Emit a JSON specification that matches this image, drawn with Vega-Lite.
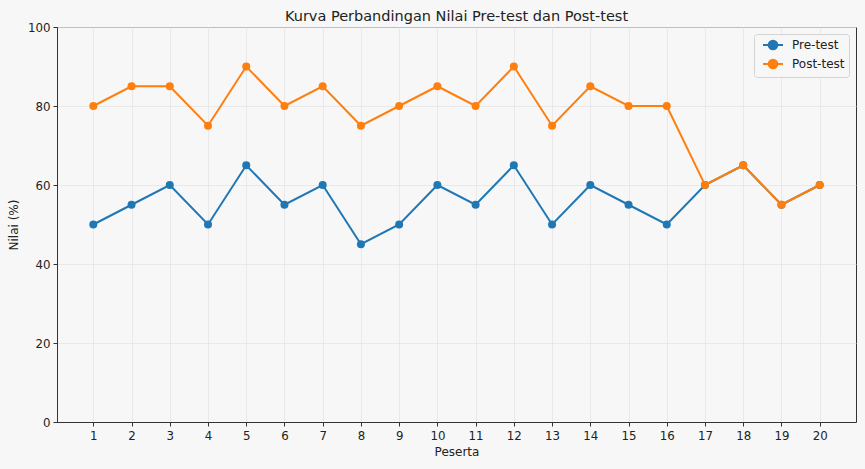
{
  "$schema": "https://vega.github.io/schema/vega-lite/v6.json",
  "width": 799,
  "height": 395,
  "autosize": {"type": "none"},
  "padding": {"left": 57, "top": 27, "right": 9, "bottom": 47},
  "background": "#f7f7f7",
  "title": {
    "text": "Kurva Perbandingan Nilai Pre-test dan Post-test",
    "font": "DejaVu Sans",
    "fontSize": 14.5,
    "fontWeight": "normal",
    "color": "#222222",
    "offset": 0,
    "dy": 2
  },
  "config": {
    "view": {"stroke": "#333333", "strokeWidth": 1, "fill": "#f7f7f7"},
    "axis": {
      "labelFont": "DejaVu Sans",
      "titleFont": "DejaVu Sans",
      "labelFontSize": 11.8,
      "titleFontSize": 12,
      "titleFontWeight": "normal",
      "labelColor": "#222222",
      "titleColor": "#222222",
      "domainColor": "#333333",
      "tickColor": "#333333",
      "tickSize": 4,
      "gridColor": "#e4e4e4",
      "gridWidth": 0.8
    }
  },
  "data": {
    "values": [
      {"peserta": 1, "tes": "Pre-test", "nilai": 50},
      {"peserta": 2, "tes": "Pre-test", "nilai": 55},
      {"peserta": 3, "tes": "Pre-test", "nilai": 60},
      {"peserta": 4, "tes": "Pre-test", "nilai": 50},
      {"peserta": 5, "tes": "Pre-test", "nilai": 65},
      {"peserta": 6, "tes": "Pre-test", "nilai": 55},
      {"peserta": 7, "tes": "Pre-test", "nilai": 60},
      {"peserta": 8, "tes": "Pre-test", "nilai": 45},
      {"peserta": 9, "tes": "Pre-test", "nilai": 50},
      {"peserta": 10, "tes": "Pre-test", "nilai": 60},
      {"peserta": 11, "tes": "Pre-test", "nilai": 55},
      {"peserta": 12, "tes": "Pre-test", "nilai": 65},
      {"peserta": 13, "tes": "Pre-test", "nilai": 50},
      {"peserta": 14, "tes": "Pre-test", "nilai": 60},
      {"peserta": 15, "tes": "Pre-test", "nilai": 55},
      {"peserta": 16, "tes": "Pre-test", "nilai": 50},
      {"peserta": 17, "tes": "Pre-test", "nilai": 60},
      {"peserta": 18, "tes": "Pre-test", "nilai": 65},
      {"peserta": 19, "tes": "Pre-test", "nilai": 55},
      {"peserta": 20, "tes": "Pre-test", "nilai": 60},
      {"peserta": 1, "tes": "Post-test", "nilai": 80},
      {"peserta": 2, "tes": "Post-test", "nilai": 85},
      {"peserta": 3, "tes": "Post-test", "nilai": 85},
      {"peserta": 4, "tes": "Post-test", "nilai": 75},
      {"peserta": 5, "tes": "Post-test", "nilai": 90},
      {"peserta": 6, "tes": "Post-test", "nilai": 80},
      {"peserta": 7, "tes": "Post-test", "nilai": 85},
      {"peserta": 8, "tes": "Post-test", "nilai": 75},
      {"peserta": 9, "tes": "Post-test", "nilai": 80},
      {"peserta": 10, "tes": "Post-test", "nilai": 85},
      {"peserta": 11, "tes": "Post-test", "nilai": 80},
      {"peserta": 12, "tes": "Post-test", "nilai": 90},
      {"peserta": 13, "tes": "Post-test", "nilai": 75},
      {"peserta": 14, "tes": "Post-test", "nilai": 85},
      {"peserta": 15, "tes": "Post-test", "nilai": 80},
      {"peserta": 16, "tes": "Post-test", "nilai": 80},
      {"peserta": 17, "tes": "Post-test", "nilai": 60},
      {"peserta": 18, "tes": "Post-test", "nilai": 65},
      {"peserta": 19, "tes": "Post-test", "nilai": 55},
      {"peserta": 20, "tes": "Post-test", "nilai": 60}
    ]
  },
  "encoding": {
    "x": {
      "field": "peserta",
      "type": "quantitative",
      "title": "Peserta",
      "scale": {"domain": [0.05, 20.95], "nice": false, "zero": false},
      "axis": {
        "values": [1, 2, 3, 4, 5, 6, 7, 8, 9, 10, 11, 12, 13, 14, 15, 16, 17, 18, 19, 20],
        "format": "d",
        "labelPadding": 4,
        "titlePadding": 5
      }
    },
    "y": {
      "field": "nilai",
      "type": "quantitative",
      "title": "Nilai (%)",
      "scale": {"domain": [0, 100], "nice": false},
      "axis": {"values": [0, 20, 40, 60, 80, 100], "labelPadding": 3, "titlePadding": 7}
    },
    "color": {
      "field": "tes",
      "type": "nominal",
      "sort": ["Pre-test", "Post-test"],
      "scale": {"domain": ["Pre-test", "Post-test"], "range": ["#1f77b4", "#ff7f0e"]},
      "legend": {
        "title": null,
        "orient": "top-right",
        "offset": 7,
        "padding": 4,
        "fillColor": "#f7f7f7",
        "strokeColor": "#d4d4d4",
        "cornerRadius": 3,
        "labelFont": "DejaVu Sans",
        "labelFontSize": 12,
        "labelColor": "#222222",
        "labelOffset": 12,
        "symbolOffset": 8,
        "symbolType": "M-1.67,0L1.67,0M0.72,0A0.72,0.72,0,1,1,-0.72,0A0.72,0.72,0,1,1,0.72,0Z",
        "symbolSize": 144,
        "symbolStrokeWidth": 2,
        "rowPadding": 1,
        "encode": {
          "symbols": {"update": {"fill": {"scale": "color", "field": "value"}}}
        }
      }
    }
  },
  "layer": [
    {
      "transform": [{"filter": "datum.tes === 'Pre-test'"}],
      "mark": {"type": "line", "strokeWidth": 2, "point": {"filled": true, "size": 64, "opacity": 1}}
    },
    {
      "transform": [{"filter": "datum.tes === 'Post-test'"}],
      "mark": {"type": "line", "strokeWidth": 2, "point": {"filled": true, "size": 64, "opacity": 1}}
    }
  ]
}
